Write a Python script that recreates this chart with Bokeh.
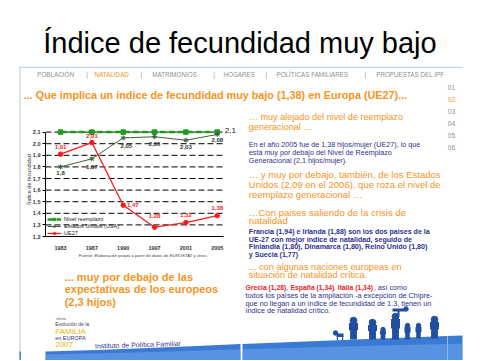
from bokeh.plotting import figure
from bokeh.layouts import row, column
from bokeh.models import (Range1d, FixedTicker, Label, Legend, LegendItem, CustomJSTickFormatter)
from bokeh.embed import file_html
from bokeh.resources import INLINE

# ---------------- data ----------------
years = ["1983", "1987", "1990", "1997", "2001", "2005"]
reemplazo = [2.1, 2.1, 2.1, 2.1, 2.1, 2.1]
usa = [1.80, 1.87, 2.05, 2.06, 2.03, 2.08]
ue27 = [1.91, 2.01, 1.47, 1.28, 1.32, 1.38]
usa_labels = ["1,8", "1,87", "2,05", "2,06", "2,03", "2,08"]
ue27_labels = ["1,91", "2,01", "1,47", "1,28", "1,32", "1,38"]
reemplazo_label = "2,1"
y_ticks = [1.2, 1.3, 1.4, 1.5, 1.6, 1.7, 1.8, 1.9, 2.0, 2.1]
series_names = ["Nivel reemplazo", "Estados Unidos (USA)", "UE27"]

title = "Índice de fecundidad muy bajo"
nav_items = ["POBLACIÓN", "|", "NATALIDAD", "|", "MATRIMONIOS", "|", "HOGARES", "|",
             "POLÍTICAS FAMILIARES", "|", "PROPUESTAS DEL IPF"]
side_numbers = ["01.", "02.", "03.", "04.", "05.", "06."]
headline = "... Que implica un índice de fecundidad muy bajo (1,38) en Europa (UE27)..."
source = "Fuente: Elaboración propia a partir de datos de EUROSTAT y otros."
left_text = ["... muy por debajo de las", "expectativas de los europeos", "(2,3 hijos)"]
r_orange1 = ["… muy alejado del nivel de reemplazo", "generacional …"]
r_navy1 = ["En el año 2005 fue de 1,38 hijos/mujer (UE27), lo que",
           "está muy por debajo del Nivel de Reemplazo",
           "Generacional (2,1 hijos/mujer)."]
r_orange2 = ["… y muy por debajo, también, de los Estados",
             "Unidos (2,09 en el 2006), que roza el nivel de",
             "reemplazo generacional …"]
r_orange3 = ["…Con paises saliendo de la crisis de", "natalidad"]
r_navy2 = ["Francia (1,94) e Irlanda (1,88) son los dos países de la",
           "UE-27 con mejor índice de natalidad, seguido de",
           "Finlandia (1,80), Dinamarca (1,80), Reino Unido (1,80)",
           "y Suecia (1,77)"]
r_orange4 = ["... con algunas naciones europeas en", "situación de natalidad crítica."]
r_mixed = [("Grecia (1,28)", "red"), (",", "navy"), ("España (1,34)", "red"), (",", "navy"),
           ("Italia (1,34)", "red"), (", así como", "navy")]
r_navy3 = ["todos los países de la ampliación -a excepción de Chipre-",
           "que no llegan a un índice de fecundidad de 1.3, tienen un",
           "índice de natalidad crítico."]

# ---------------- styles ----------------
ORANGE = "#f7941d"
NAVY = "#2e3192"
RED = "#ee1c25"
GRAY = "#8f8f8f"
GREEN = "#1e9c1e"
DKGREEN = "#3d5f3d"
BAND = "#3a7ad4"
SIL = "#1f4f9e"
FRAME = "#b8c9d8"
FONT = "Liberation Sans"
COLORS = {"red": RED, "navy": NAVY}

# page-coordinate layout (Bokeh's page template has no body margin)
XL, XA, XB, XR, XE = 0, 21, 242, 447, 480     # column boundaries
YT, YB, YC, YE = 0, 122, 252, 360             # row boundaries
FL, FR, FB = 45, 240, 237                     # chart frame (page px)


def page_fig(x0, x1, y0, y1):
    f = figure(width=x1 - x0, height=y1 - y0, x_range=Range1d(x0, x1), y_range=Range1d(y1, y0),
               x_axis_type=None, y_axis_type=None, output_backend="svg",
               toolbar_location=None, min_border=0)
    for g in f.grid:
        g.visible = False
    f.outline_line_color = None
    f.background_fill_color = "white"
    f.border_fill_color = "white"
    return f


def put(f, px, py, text, size, color, bold=False, align="left", baseline="middle", angle=0):
    f.add_layout(Label(x=px, y=py, text=text, text_font_size=f"{size}px", text_color=color,
                       text_font=FONT, text_font_style="bold" if bold else "normal",
                       text_align=align, text_baseline=baseline, angle=angle))


band_x = [19, 19, 80, 180, 280, 380, 462, 462]
band_y = [361, 351, 349.5, 346, 342, 338, 335, 361]
band2_x = [19, 19, 120, 250, 380, 462, 462]
band2_y = [361, 354, 352, 348.5, 345, 343, 361]


def draw_band(f):
    f.patch(band_x, band_y, fill_color=BAND, line_color=None)
    f.patch(band2_x, band2_y, fill_color="#6fa8ea", fill_alpha=0.55, line_color=None)


def draw_frame(f):
    f.quad(left=19, right=462, top=66.2, bottom=67.2, fill_color=FRAME, line_color=None)
    f.quad(left=19, right=20, top=66.2, bottom=361, fill_color=FRAME, line_color=None)


# ---------------- left strip ----------------
lstrip = page_fig(XL, XA, YT, YE)
draw_frame(lstrip)
draw_band(lstrip)

# ---------------- right strip ----------------
rstrip = page_fig(XR, XE, YT, YE)
draw_frame(rstrip)
draw_band(rstrip)
for k, t in enumerate(side_numbers):
    put(rstrip, 447.3, 87.3 + 12 * k, t, 6.5, ORANGE if t == "02." else GRAY)

# ---------------- top ----------------
top = page_fig(XA, XR, YT, YB)
draw_frame(top)
put(top, 239.5, 42.5, title, 29, "black", align="center", baseline="alphabetic")
nav_x = [36.7, 85.7, 94, 140, 151.7, 212.7, 223, 265, 276, 364, 375.7]
for x, t in zip(nav_x, nav_items):
    put(top, x, 74.3, t, 6.3, ORANGE if t == "NATALIDAD" else GRAY)
put(top, 23.3, 94, headline, 10.8, ORANGE, bold=True)
put(top, 248.3, 116.8, r_orange1[0], 9.1, ORANGE)

# ---------------- chart ----------------
cw, ch = XB - XA, YC - YB
px_per_x, px_per_y = 31.34, 117.0
x0 = -0.48
x1 = x0 + (FR - FL) / px_per_x
y1 = 1.2 + (FB - YB) / px_per_y
p = figure(width=cw, height=ch, x_range=Range1d(x0, x1), y_range=Range1d(1.2, y1),
           output_backend="svg", toolbar_location=None,
           min_border_left=FL - XA, min_border_right=XB - FR,
           min_border_top=0, min_border_bottom=YC - FB)
p.outline_line_color = None
p.background_fill_color = "white"
p.border_fill_color = "white"
for g in p.grid:
    g.visible = False

idx = list(range(len(years)))
p.segment(x0=x0, x1=5.2, y0=y_ticks, y1=y_ticks, line_color="black", line_width=1,
          line_dash="6 3")

p.xaxis.ticker = FixedTicker(ticks=idx)
p.xaxis.major_label_overrides = {i: y for i, y in zip(idx, years)}
p.xaxis.major_tick_line_color = None
p.xaxis.minor_tick_line_color = None
p.xaxis.major_label_standoff = 3
p.xaxis.bounds = (x0 - 0.06, 5.2)
p.yaxis.ticker = FixedTicker(ticks=y_ticks)
p.yaxis.formatter = CustomJSTickFormatter(code="return tick.toFixed(1).replace('.', ',');")
p.yaxis.minor_tick_line_color = None
p.yaxis.major_tick_out = 3
p.yaxis.major_tick_in = 0
p.yaxis.major_label_standoff = 2
p.yaxis.bounds = (1.2, 2.1)
p.yaxis.axis_label = "Índice de fecundidad"
p.yaxis.axis_label_text_font_size = "5.5px"
p.yaxis.axis_label_text_font_style = "normal"
p.yaxis.axis_label_text_font = FONT
p.yaxis.axis_label_text_color = "#444444"
p.yaxis.axis_label_standoff = -2
for ax in (p.xaxis, p.yaxis):
    ax.axis_line_color = "black"
    ax.axis_line_width = 1
    ax.major_label_text_font_size = "5.5px"
    ax.major_label_text_font_style = "bold"
    ax.major_label_text_font = FONT
    ax.major_label_text_color = "#333333"

g_l = p.line(idx, reemplazo, line_color=GREEN, line_width=2.5, line_dash="6 3")
g_m = p.scatter(idx, reemplazo, marker="square", size=4.5, color=GREEN)
u_l = p.line(idx, usa, line_color=DKGREEN, line_width=1)
u_m = p.scatter(idx, usa, marker="asterisk", size=5, line_color=DKGREEN)
e_l = p.line(idx, ue27, line_color="#ff1a1a", line_width=1.3)
e_m = p.scatter(idx, ue27, marker="circle", size=4.5, color="#ff1a1a")

legend = Legend(items=[LegendItem(label=series_names[0], renderers=[g_l, g_m]),
                       LegendItem(label=series_names[1], renderers=[u_l, u_m]),
                       LegendItem(label=series_names[2], renderers=[e_l, e_m])],
                location=(2, 0), label_text_font_size="5.5px", label_text_font=FONT,
                glyph_width=14, glyph_height=6, label_height=6, spacing=1, padding=1,
                margin=0, border_line_color=None, background_fill_alpha=0,
                label_standoff=3, label_text_color="#222222")
p.add_layout(legend)

usa_off = [(0, -6), (0, -8), (3, -8.5), (0, -7), (0, -7), (0, -6)]
ue_off = [(0, 6.7), (0, 6.5), (9.5, 0), (0, 11), (0, 8), (0, 7.7)]
for i, v, t, (dx, dy) in zip(idx, usa, usa_labels, usa_off):
    p.add_layout(Label(x=i, y=v, text=t, x_offset=dx, y_offset=dy, text_align="center",
                       text_baseline="middle", text_font_size="6px", text_font=FONT,
                       text_font_style="bold", text_color="#333333"))
for i, v, t, (dx, dy) in zip(idx, ue27, ue27_labels, ue_off):
    p.add_layout(Label(x=i, y=v, text=t, x_offset=dx, y_offset=dy, text_align="center",
                       text_baseline="middle", text_font_size="6px", text_font=FONT,
                       text_font_style="bold", text_color="#ff1a1a"))
p.add_layout(Label(x=idx[-1], y=reemplazo[-1], text=reemplazo_label, x_offset=7.5, y_offset=1.7,
                   text_align="left", text_baseline="middle", text_font_size="8px",
                   text_font=FONT, text_color="#222222"))

# ---------------- bottom left ----------------
bl = page_fig(XA, XB, YC, YE)
draw_band(bl)
put(bl, 131.7, 254.5, source, 4.3, "#444444", align="center")
for k, t in enumerate(left_text):
    put(bl, 42.7, 276.7 + 12.2 * k, t, 11, ORANGE, bold=True)
put(bl, 33, 318, "informe", 3, "#555555")
put(bl, 32, 323.5, "Evolución de la", 5, "#444444")
put(bl, 32, 330.5, "FAMILIA", 8, "#f4b400")
put(bl, 32, 337, "en EUROPA", 5.5, NAVY)
put(bl, 32, 343.5, "2007", 8, "#f4b400")
put(bl, 77, 345.5, "Instituto de Política Familiar", 7, NAVY, angle=0.03)

# ---------------- right column ----------------
rc = page_fig(XB, XR, YB, YE)
draw_band(rc)
put(rc, 248.3, 126.7, r_orange1[1], 9.1, ORANGE)
for k, t in enumerate(r_navy1):
    put(rc, 248.3, 144.3 + 7.8 * k, t, 7.2, NAVY)
for k, t in enumerate(r_orange2):
    put(rc, 248.3, 173.5 + 10.3 * k, t, 9.5, ORANGE)
for k, t in enumerate(r_orange3):
    put(rc, 248.3, 211.5 + 8.7 * k, t, 9.6, ORANGE)
for k, t in enumerate(r_navy2):
    put(rc, 248.3, 231.5 + 7.5 * k, t, 7.1, NAVY, bold=True)
for k, t in enumerate(r_orange4):
    put(rc, 248.3, 266 + 8.2 * k, t, 9.2, ORANGE)
mixed_x = [245, 285.6, 290, 332.4, 337.3, 373.3]
for x, (t, c) in zip(mixed_x, r_mixed):
    put(rc, x, 286.7, t, 6.8 if c == "red" else 7.2, COLORS[c], bold=(c == "red"))
for k, t in enumerate(r_navy3):
    put(rc, 245, 295 + 7.6 * k, t, 7.3, NAVY)

# silhouettes (decoration)
people = [(353, 317, 339, 9), (372, 319, 339, 9), (382.5, 327, 339, 6), (395, 313, 339, 9),
          (407, 323, 339, 6), (418, 323, 338, 6), (434, 316, 338, 9)]
for cx, t0, b0, w in people:
    h = b0 - t0
    rc.scatter([cx], [t0 + w * 0.35], size=w * 0.75, color=SIL)
    rc.quad(left=cx - w / 2, right=cx + w / 2, top=t0 + w * 0.6, bottom=t0 + h * 0.58,
            fill_color=SIL, line_color=None)
    rc.quad(left=cx - w * 0.38, right=cx + w * 0.38, top=t0 + h * 0.5, bottom=b0,
            fill_color=SIL, line_color=None)
rc.quad(left=392, right=404, top=308, bottom=311, fill_color=SIL, line_color=None)
rc.quad(left=397, right=399, top=309, bottom=316, fill_color=SIL, line_color=None)
rc.scatter([405.5], [308.5], size=4.5, color=SIL)
rc.quad(left=336, right=343, top=333, bottom=336.5, fill_color=SIL, line_color=None)
rc.quad(left=336.3, right=337.5, top=336, bottom=339.5, fill_color=SIL, line_color=None)
rc.quad(left=341.5, right=342.7, top=336, bottom=339.5, fill_color=SIL, line_color=None)
rc.scatter([335], [332.5], size=4.5, color=SIL)

layout = row(lstrip,
             column(top, row(column(p, bl), rc)),
             rstrip)
open("out.html", "w").write(file_html(layout, INLINE))
